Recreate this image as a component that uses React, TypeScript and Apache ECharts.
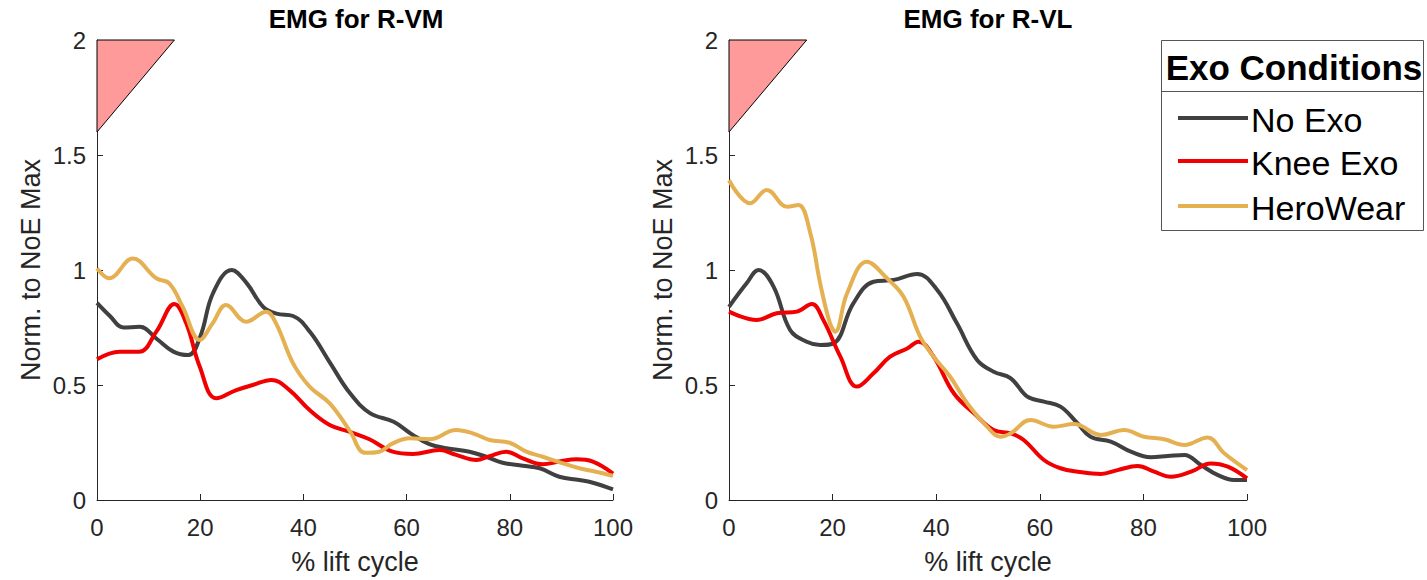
import React, { useEffect, useRef } from "react";
import * as echarts from "echarts";

// ---- data ----
const X_TICKS = [0, 20, 40, 60, 80, 100];
const Y_TICKS = [0, 0.5, 1, 1.5, 2];

// Triangle marker (cue) in data coordinates
const cueX = [0, 15, 0];
const cueY = [2, 2, 1.6];

// Panel 1: EMG for R-VM
const vmNoExoX = [0, 2.5, 5.1, 8.3, 11.6, 14.8, 17.7, 20, 22.5, 26.1, 29, 32.2, 34.8, 38, 41.3, 45.2, 49, 52.9, 57.5, 61.2, 64.4, 67.7, 72.2, 75.4, 78.6, 82.5, 85.8, 89.6, 93.5, 96.1, 100];
const vmNoExoY = [0.857, 0.8, 0.75, 0.753, 0.7, 0.645, 0.63, 0.71, 0.9, 1.0, 0.943, 0.84, 0.81, 0.8, 0.73, 0.595, 0.465, 0.378, 0.34, 0.283, 0.243, 0.225, 0.21, 0.188, 0.162, 0.149, 0.138, 0.101, 0.087, 0.075, 0.046];

const vmKneeX = [0, 4.4, 8.2, 11.5, 15, 17.3, 19.9, 23.1, 27, 30.2, 33.8, 37.3, 41.2, 45.1, 48.9, 52.8, 57.3, 61.2, 66.4, 69.6, 73.5, 76.1, 79.3, 82.5, 86.4, 89.6, 92.9, 96.1, 100];
const vmKneeY = [0.612, 0.645, 0.645, 0.732, 0.852, 0.768, 0.58, 0.442, 0.478, 0.5, 0.522, 0.478, 0.391, 0.326, 0.297, 0.264, 0.21, 0.2, 0.217, 0.196, 0.174, 0.191, 0.21, 0.181, 0.155, 0.167, 0.177, 0.167, 0.115];

const vmHeroX = [0, 2.4, 6.9, 11.5, 14, 16.6, 19.9, 22.4, 25, 28.9, 32.8, 34.7, 38, 41.2, 45.1, 48.9, 52, 54.7, 57.3, 60.6, 64.4, 69.6, 72.8, 76.1, 80, 83.2, 86.4, 90.3, 93.5, 96.7, 100];
const vmHeroY = [1.007, 0.964, 1.05, 0.964, 0.942, 0.84, 0.696, 0.768, 0.848, 0.775, 0.819, 0.768, 0.594, 0.493, 0.42, 0.304, 0.205, 0.21, 0.246, 0.268, 0.264, 0.304, 0.29, 0.261, 0.249, 0.21, 0.188, 0.159, 0.138, 0.123, 0.105];

// Panel 2: EMG for R-VL
const vlNoExoX = [0, 3.4, 5.7, 8.6, 11.8, 15, 17.6, 20.2, 24, 27.9, 31.8, 36.3, 40.2, 44, 47.9, 51.1, 54.4, 57.6, 60.8, 64, 67.3, 69.8, 73.7, 77.6, 81.4, 84.7, 87.9, 91.1, 94.3, 97.5, 100];
const vlNoExoY = [0.84, 0.942, 1.0, 0.928, 0.739, 0.688, 0.674, 0.681, 0.855, 0.949, 0.957, 0.983, 0.913, 0.768, 0.609, 0.558, 0.529, 0.449, 0.428, 0.406, 0.333, 0.275, 0.254, 0.21, 0.186, 0.191, 0.196, 0.152, 0.109, 0.087, 0.087];

const vlKneeX = [0, 5.4, 9.2, 13.1, 16, 18.2, 21.5, 24.7, 27.9, 31.1, 34.4, 36.6, 39.5, 43.4, 47.3, 51.1, 54.4, 56.9, 60.8, 64, 67.3, 71.8, 75, 78.9, 82.1, 85.3, 89.2, 93, 96.3, 100];
const vlKneeY = [0.819, 0.783, 0.812, 0.819, 0.852, 0.783, 0.623, 0.493, 0.551, 0.623, 0.659, 0.688, 0.623, 0.464, 0.377, 0.304, 0.29, 0.261, 0.174, 0.138, 0.123, 0.113, 0.13, 0.148, 0.123, 0.101, 0.123, 0.159, 0.145, 0.094];

const vlHeroX = [0, 4.1, 7.3, 11.2, 13.4, 15.7, 17.6, 19.5, 20.5, 22.8, 26.6, 30.5, 33.7, 36.9, 39.5, 42.7, 46, 49.8, 52.4, 54.4, 58.2, 62.7, 66.6, 71.8, 76.3, 80.1, 84, 87.9, 92.4, 95.6, 100];
const vlHeroY = [1.39, 1.29, 1.348, 1.275, 1.283, 1.16, 0.942, 0.768, 0.732, 0.899, 1.036, 0.964, 0.884, 0.71, 0.623, 0.536, 0.42, 0.319, 0.275, 0.29, 0.348, 0.319, 0.33, 0.283, 0.304, 0.275, 0.264, 0.239, 0.272, 0.203, 0.13];

const SERIES_NAMES = ["No Exo", "Knee Exo", "HeroWear"];
const SERIES_COLORS = ["#404040", "#f00000", "#e5b052"];
const PANEL_TITLES = ["EMG for R-VM", "EMG for R-VL"];
const LEGEND_TITLE = "Exo Conditions";

const FONT = "'Liberation Sans', Arial, Helvetica, sans-serif";
const AXIS_COLOR = "#262626";

const zip = (xs: number[], ys: number[]) => xs.map((x, i) => [x, ys[i]]);

export default function App() {
  const ref = useRef<HTMLDivElement>(null);

  useEffect(() => {
    if (!ref.current) return;
    const chart = echarts.init(ref.current, null, { renderer: "svg" });

    const grids = [
      { left: 97, top: 40, width: 516, height: 460 },
      { left: 729, top: 40, width: 518, height: 460 },
    ];

    const xAxis = grids.map((_, i) => ({
      type: "value",
      gridIndex: i,
      min: X_TICKS[0],
      max: X_TICKS[X_TICKS.length - 1],
      interval: 20,
      name: "% lift cycle",
      nameLocation: "middle",
      nameGap: 48,
      nameTextStyle: { fontSize: 27, color: AXIS_COLOR, fontFamily: FONT },
      axisLine: { show: true, lineStyle: { color: AXIS_COLOR, width: 1 } },
      axisTick: { show: true, inside: true, length: 6, lineStyle: { color: AXIS_COLOR } },
      axisLabel: { fontSize: 24, color: AXIS_COLOR, fontFamily: FONT, margin: 15 },
      splitLine: { show: false },
    }));

    const yAxis = grids.map((_, i) => ({
      type: "value",
      gridIndex: i,
      min: Y_TICKS[0],
      max: Y_TICKS[Y_TICKS.length - 1],
      interval: 0.5,
      name: "Norm. to NoE Max",
      nameLocation: "middle",
      nameGap: 53,
      nameTextStyle: { fontSize: 27, color: AXIS_COLOR, fontFamily: FONT },
      axisLine: { show: true, lineStyle: { color: AXIS_COLOR, width: 1 } },
      axisTick: { show: true, inside: true, length: 6, lineStyle: { color: AXIS_COLOR } },
      axisLabel: { fontSize: 24, color: AXIS_COLOR, fontFamily: FONT, margin: 11 },
      splitLine: { show: false },
    }));

    const panels = [
      [zip(vmNoExoX, vmNoExoY), zip(vmKneeX, vmKneeY), zip(vmHeroX, vmHeroY)],
      [zip(vlNoExoX, vlNoExoY), zip(vlKneeX, vlKneeY), zip(vlHeroX, vlHeroY)],
    ];

    const series: any[] = [];
    panels.forEach((panel, p) => {
      series.push({
        type: "custom",
        xAxisIndex: p,
        yAxisIndex: p,
        data: [[cueX[0], cueY[0]]],
        silent: true,
        z: 1,
        renderItem: (_params: any, api: any) => {
          const pts = cueX.map((x, i) => api.coord([x, cueY[i]]));
          return {
            type: "polygon",
            shape: { points: pts },
            style: { fill: "#ff9a9a", stroke: "#000", lineWidth: 1 },
          };
        },
      });
      panel.forEach((data, s) => {
        series.push({
          type: "line",
          name: SERIES_NAMES[s],
          xAxisIndex: p,
          yAxisIndex: p,
          data,
          smooth: 0.4,
          symbol: "none",
          z: 2 + s,
          lineStyle: { color: SERIES_COLORS[s], width: 4 },
          itemStyle: { color: SERIES_COLORS[s] },
        });
      });
    });

    const legendRows = [118, 161, 206];
    const graphic: any[] = [
      {
        type: "text",
        x: 356,
        y: 19,
        style: { text: PANEL_TITLES[0], font: `bold 26px ${FONT}`, fill: "#000", textAlign: "center", textVerticalAlign: "middle" },
      },
      {
        type: "text",
        x: 988,
        y: 19,
        style: { text: PANEL_TITLES[1], font: `bold 26px ${FONT}`, fill: "#000", textAlign: "center", textVerticalAlign: "middle" },
      },
      {
        type: "rect",
        shape: { x: 1161.5, y: 40.5, width: 262, height: 190 },
        style: { fill: "#fff", stroke: "#555", lineWidth: 1 },
        z: 10,
      },
      {
        type: "line",
        shape: { x1: 1161.5, y1: 91.5, x2: 1423.5, y2: 91.5 },
        style: { stroke: "#555", lineWidth: 1 },
        z: 11,
      },
      {
        type: "text",
        x: 1294,
        y: 67,
        z: 11,
        style: { text: LEGEND_TITLE, font: `bold 35px ${FONT}`, fill: "#000", textAlign: "center", textVerticalAlign: "middle" },
      },
    ];
    SERIES_NAMES.forEach((name, i) => {
      graphic.push({
        type: "line",
        z: 11,
        shape: { x1: 1178, y1: legendRows[i], x2: 1248, y2: legendRows[i] },
        style: { stroke: SERIES_COLORS[i], lineWidth: 4 },
      });
      graphic.push({
        type: "text",
        z: 11,
        x: 1251,
        y: legendRows[i] + 2,
        style: { text: name, font: `34px ${FONT}`, fill: "#000", textAlign: "left", textVerticalAlign: "middle" },
      });
    });

    chart.setOption({
      animation: false,
      backgroundColor: "#fff",
      textStyle: { fontFamily: FONT },
      grid: grids,
      xAxis,
      yAxis,
      series,
      graphic,
    });

    return () => chart.dispose();
  }, []);

  return (
    <div
      ref={ref}
      style={{ position: "fixed", left: 0, top: 0, width: 1427, height: 580, background: "#fff" }}
    />
  );
}
